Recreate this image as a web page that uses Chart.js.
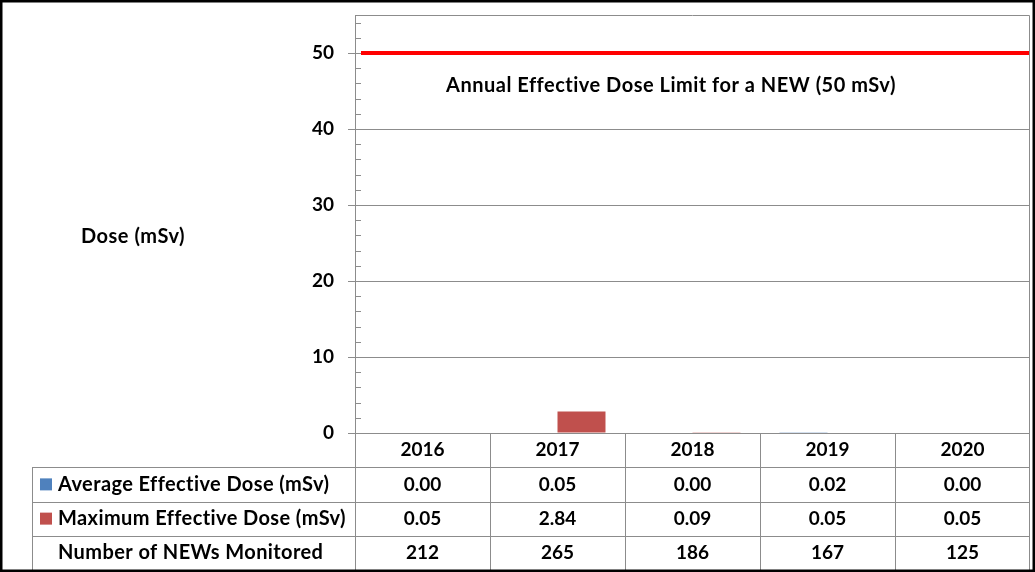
<!DOCTYPE html>
<html>
<head>
<meta charset="utf-8">
<script src="https://cdn.jsdelivr.net/npm/chart.js@4.4.1/dist/chart.umd.min.js"></script>
<style>
  html, body { margin: 0; padding: 0; background: #fff; }
  #wrap { width: 1035px; height: 572px; position: relative; }
</style>
</head>
<body>
<div id="wrap"><canvas id="grafica" width="1035" height="572"></canvas></div>
<script>
// datos del grafico
const years = ["2016", "2017", "2018", "2019", "2020"];
const avgDose = [0.00, 0.05, 0.00, 0.02, 0.00];
const maxDose = [0.05, 2.84, 0.09, 0.05, 0.05];
const newsMonitored = [212, 265, 186, 167, 125];
const doseLimit = 50;
const yMax = 55;
const yStep = 10;

const FONT = "Lato";
const GREY = "#8c8c8c";
const BLUE = "#4F81BD";
const RED_BAR = "#C0504D";

const tableRows = [
  { label: "Average Effective Dose (mSv)", color: BLUE, values: avgDose.map(v => v.toFixed(2)) },
  { label: "Maximum Effective Dose (mSv)", color: RED_BAR, values: maxDose.map(v => v.toFixed(2)) },
  { label: "Number of NEWs Monitored", color: null, values: newsMonitored.map(String) }
];

// plugin: borde, marcas menores, linea del limite, tabla de datos, textos
const extras = {
  id: "extras",
  afterDatasetsDraw(chart) {
    const { ctx, chartArea: ca, scales: { y } } = chart;
    // linea del limite anual
    const py = y.getPixelForValue(doseLimit);
    ctx.save();
    ctx.strokeStyle = "#FF0000";
    ctx.lineWidth = 4;
    ctx.beginPath();
    ctx.moveTo(ca.left + 6, py);
    ctx.lineTo(ca.right, py);
    ctx.stroke();
    ctx.restore();
  },
  afterDraw(chart) {
    const { ctx, chartArea: ca, scales: { x, y } } = chart;
    const W = chart.width, H = chart.height;
    ctx.save();
    ctx.strokeStyle = GREY;
    ctx.lineWidth = 1;

    // borde del area de la grafica
    ctx.beginPath();
    ctx.moveTo(Math.round(ca.left) + 0.5, Math.round(ca.bottom));
    ctx.lineTo(Math.round(ca.left) + 0.5, Math.round(ca.top) + 0.5);
    ctx.lineTo(Math.round(ca.right) - 0.5, Math.round(ca.top) + 0.5);
    ctx.lineTo(Math.round(ca.right) - 0.5, Math.round(ca.bottom));
    ctx.stroke();

    // marcas menores
    for (let v = 0; v <= yMax; v += 2) {
      if (v % yStep === 0) continue;
      const py = Math.round(y.getPixelForValue(v)) + 0.5;
      ctx.beginPath();
      ctx.moveTo(ca.left, py);
      ctx.lineTo(ca.left + 6, py);
      ctx.stroke();
    }

    // tabla de datos
    const bottom = H - 2;
    const rowH = (bottom - ca.bottom) / 4;
    const colW = (ca.right - ca.left) / years.length;
    const tableLeft = 32;
    ctx.beginPath();
    for (let i = 0; i <= years.length; i++) {
      const px = Math.round(ca.left + i * colW) + (i === years.length ? -0.5 : 0.5);
      ctx.moveTo(px, ca.bottom);
      ctx.lineTo(px, bottom);
    }
    ctx.moveTo(tableLeft + 0.5, ca.bottom + rowH);
    ctx.lineTo(tableLeft + 0.5, bottom);
    for (let k = 1; k <= 3; k++) {
      const py = Math.round(ca.bottom + k * rowH) + 0.5;
      ctx.moveTo(tableLeft, py);
      ctx.lineTo(ca.right, py);
    }
    ctx.stroke();

    ctx.fillStyle = "#000";
    ctx.textBaseline = "middle";
    tableRows.forEach((row, r) => {
      const cy = ca.bottom + (r + 1.5) * rowH;
      if (row.color) {
        ctx.fillStyle = row.color;
        ctx.fillRect(40, cy - 6, 12, 12);
      }
      ctx.fillStyle = "#000";
      ctx.textAlign = "left";
      ctx.font = "bold 20px " + FONT;
      ctx.letterSpacing = "0.4px";
      ctx.fillText(row.label, 58, cy);
      ctx.textAlign = "center";
      ctx.font = "bold 19px " + FONT;
      ctx.letterSpacing = "0px";
      row.values.forEach((val, i) => {
        ctx.fillText(val, x.getPixelForValue(i), cy);
      });
    });

    // titulo del eje y
    ctx.font = "bold 20px " + FONT;
    ctx.letterSpacing = "0.5px";
    ctx.textAlign = "center";
    ctx.fillText("Dose (mSv)", 133, 237);

    // texto del limite
    ctx.fillText("Annual Effective Dose Limit for a NEW (50 mSv)", 671, 86);
    ctx.letterSpacing = "0px";

    // borde exterior
    ctx.strokeStyle = "#000";
    ctx.lineWidth = 2.5;
    ctx.strokeRect(1.25, 1.25, W - 2.5, H - 2.5);
    ctx.restore();
  }
};

function draw() {
  const $grafica = document.getElementById("grafica");
  new Chart($grafica, {
    type: "bar",
    data: {
      labels: years,
      datasets: [
        {
          label: "Average Effective Dose (mSv)",
          data: avgDose,
          backgroundColor: BLUE
        },
        {
          label: "Maximum Effective Dose (mSv)",
          data: maxDose,
          backgroundColor: RED_BAR
        }
      ]
    },
    options: {
      responsive: false,
      animation: false,
      categoryPercentage: 0.711,
      barPercentage: 1,
      layout: { padding: { top: 15, right: 5, left: 0, bottom: 0 } },
      plugins: { legend: { display: false }, tooltip: { enabled: false } },
      scales: {
        x: {
          type: "category",
          grid: { display: false },
          border: { display: false },
          ticks: { color: "#000", font: { family: FONT, size: 19, weight: "bold" }, padding: -3, maxRotation: 0 },
          afterFit: s => { s.height = 139; s.paddingLeft = 0; s.paddingRight = 0; }
        },
        y: {
          min: 0,
          max: yMax,
          ticks: { stepSize: yStep, color: "#000", font: { family: FONT, size: 19, weight: "bold" }, padding: 14 },
          afterBuildTicks: s => { s.ticks = s.ticks.filter(t => t.value % yStep === 0); },
          grid: { color: GREY, lineWidth: 1, tickLength: 7, tickColor: GREY },
          border: { display: true, color: GREY },
          afterFit: s => { s.width = 355; s.paddingTop = 0; s.paddingBottom = 0; }
        }
      }
    },
    plugins: [extras]
  });
}

document.fonts.load("bold 19px " + FONT).then(draw, draw);
</script>
</body>
</html>
